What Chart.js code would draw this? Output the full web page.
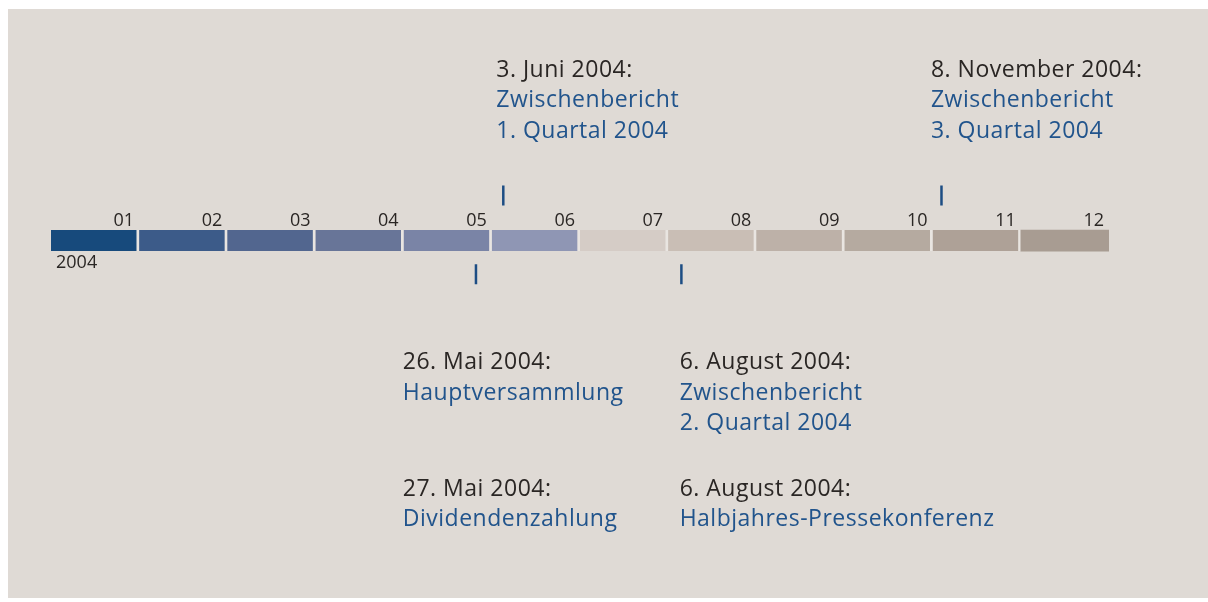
<!DOCTYPE html>
<html>
<head>
<meta charset="utf-8">
<script src="https://cdn.jsdelivr.net/npm/chart.js@4.4.0/dist/chart.umd.min.js"></script>
<style>
html, body { margin: 0; padding: 0; background: #fff; overflow: hidden; }
#panel { position: absolute; left: 8px; top: 9px; width: 1200px; height: 589px; background: #dfdad5; }
#myChart { position: absolute; left: 0; top: 0; }
</style>
</head>
<body>
<div id="panel"></div>
<canvas id="myChart" width="1208" height="602"></canvas>
<script>
// timeline 2004 - financial calendar
var months = ['01', '02', '03', '04', '05', '06', '07', '08', '09', '10', '11', '12'];
var year = '2004';
var monthColors = ['#174a7c', '#3c5b89', '#52668f', '#687598', '#7a84a6', '#8f96b4',
                   '#d5ccc6', '#c9beb5', '#bdb1a8', '#b5aaa0', '#aea197', '#a89c92'];

// event markers, position in months since 1 Jan
var markersAbove = [5.13, 10.1];
var markersBelow = [4.82, 7.15];

// event texts
var eventDates = ['3. Juni 2004:', '8. November 2004:', '26. Mai 2004:', '27. Mai 2004:', '6. August 2004:', '6. August 2004:'];
var eventTitles = [
    ['Zwischenbericht', '1. Quartal 2004'],
    ['Zwischenbericht', '3. Quartal 2004'],
    ['Hauptversammlung'],
    ['Dividendenzahlung'],
    ['Zwischenbericht', '2. Quartal 2004'],
    ['Halbjahres-Pressekonferenz']
];
var eventTextPos = [5.05, 9.98, 3.99, 3.99, 7.13, 7.13];

// vertical layout (y scale units = px relative to the bar centre, text = baseline)
var rowAbove = -47, rowBelow = 35;
var textRows = [-171, -171, 134, 266, 134, 266];
var lineStep = 32;

var gapColor = '#e9e5e1';
var darkText = '#2a2624';
var blueText = '#21548c';
var fontFamily = '"Open Sans", sans-serif';

var textPlugin = {
    id: 'timelineText',
    afterDatasetsDraw: function(chart) {
        var c = chart.ctx, x = chart.scales.x, y = chart.scales.y;
        c.save();
        c.textBaseline = 'alphabetic';
        c.fillStyle = darkText;
        c.font = '18px ' + fontFamily;
        c.textAlign = 'right';
        months.forEach(function(m, i) {
            c.fillText(m, x.getPixelForValue(i + 1) - 5, y.getPixelForValue(-15.5));
        });
        c.textAlign = 'left';
        c.fillText(year, x.getPixelForValue(0) + 5, y.getPixelForValue(29));
        c.letterSpacing = '0.5px';
        eventDates.forEach(function(d, i) {
            var px = x.getPixelForValue(eventTextPos[i]);
            c.fillStyle = darkText;
            c.font = '500 23px ' + fontFamily;
            c.fillText(d, px, y.getPixelForValue(textRows[i]));
            c.fillStyle = blueText;
            c.font = '23px ' + fontFamily;
            eventTitles[i].forEach(function(t, j) {
                c.fillText(t, px, y.getPixelForValue(textRows[i] + lineStep * (j + 1)));
            });
        });
        c.restore();
    }
};

var ctx = document.getElementById('myChart').getContext('2d');
var myChart = new Chart(ctx, {
    type: 'bar',
    data: {
        datasets: [{
            type: 'bar',
            indexAxis: 'y',
            data: months.map(function(m, i) { return { x: [i, i + 1], y: 0 }; }),
            backgroundColor: monthColors,
            borderColor: gapColor,
            borderSkipped: false,
            borderWidth: function(c) {
                return c.dataIndex < months.length - 1 ? { top: 0, bottom: 0, left: 0, right: 3 } : 0;
            },
            barThickness: 21
        }, {
            type: 'scatter',
            data: markersAbove.map(function(v) { return { x: v, y: rowAbove }; })
                .concat(markersBelow.map(function(v) { return { x: v, y: rowBelow }; })),
            pointStyle: 'line',
            rotation: 90,
            radius: 10,
            borderWidth: 2.5,
            borderColor: '#1d4d84',
            backgroundColor: '#1d4d84'
        }]
    },
    options: {
        responsive: false,
        animation: false,
        devicePixelRatio: 1,
        layout: { padding: { left: 51, right: 99, top: 0, bottom: 0 } },
        scales: {
            x: { type: 'linear', min: 0, max: 12, offset: false, display: false },
            y: { type: 'linear', min: -238, max: 364, reverse: true, offset: false, display: false }
        },
        plugins: {
            legend: { display: false },
            tooltip: { enabled: false }
        }
    },
    plugins: [textPlugin]
});
</script>
</body>
</html>
